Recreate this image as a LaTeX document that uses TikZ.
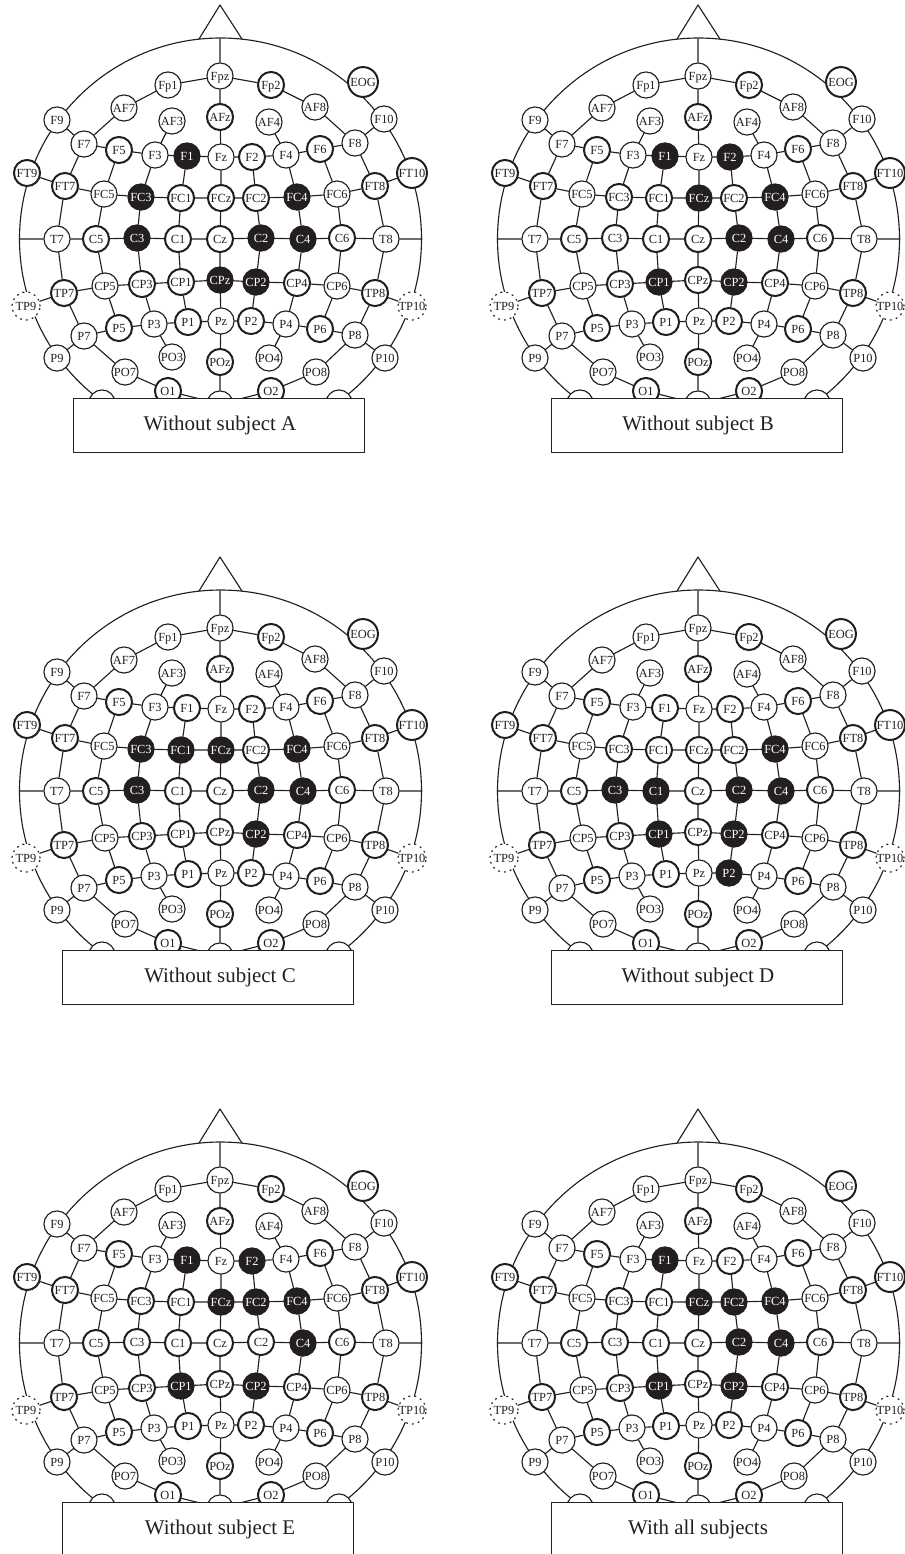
\documentclass[tikz,border=0pt]{standalone}
\usepackage{fontspec}
\setmainfont{Liberation Serif}
\definecolor{ink}{HTML}{231F20}
\tikzset{
	wire/.style={ink, line width=0.85pt},
	basenode/.style={circle, fill=white, text=ink, inner sep=0pt, minimum size=19.6pt, text height=6pt, text depth=0pt, font=\fontsize{9.3}{10}\selectfont},
	thinnode/.style={basenode, draw=ink, line width=0.85pt},
	thicknode/.style={basenode, draw=ink, line width=1.5pt},
	bignode/.style={thicknode, minimum size=22.4pt},
	dotnode/.style={basenode, draw=ink, dash pattern=on 0.9pt off 3.6pt, line width=0.9pt, minimum size=21pt},
	activenode/.style={basenode, draw=ink, fill=ink, text=white, line width=0.85pt},
	captionbox/.style={draw=ink, fill=white, line width=0.85pt, minimum width=218.4pt, minimum height=40.6pt},
	captiontext/.style={text=ink, inner sep=0pt, font=\fontsize{15.7}{18}\selectfont}
}
% Site name / x / y / look, in pixels of the first panel
\def\eegsites{Fpz/220/76/thinnode, Fp1/168/85/thinnode, Fp2/271/85/thicknode, EOG/363/82/bignode,
	AF7/124/108/thinnode, AF3/172/121/thinnode, AFz/220/117/thicknode, AF4/269/122/thinnode, AF8/315/107/thinnode,
	F9/57/120/thinnode, F10/384/119/thinnode,
	F7/84/144/thinnode, F5/119/150/thicknode, F3/155/155/thinnode, F1/187/156/thicknode, Fz/221/157/thinnode,
	F2/252/157/thicknode, F4/286/155/thinnode, F6/320/149/thicknode, F8/355/143/thinnode,
	FT9/27/173/thicknode, FT10/412/173/bignode,
	FT7/65/186/thicknode, FC5/104/194/thinnode, FC3/141/197/thicknode, FC1/181/198/thicknode, FCz/221/198/thicknode,
	FC2/256/198/thicknode, FC4/297/197/thicknode, FC6/337/194/thinnode, FT8/375/186/thicknode,
	T7/57/239/thinnode, C5/96/239/thicknode, C3/137/238/thicknode, C1/178/239/thicknode, Cz/220/239/thicknode,
	C2/261/238/thicknode, C4/303/239/thicknode, C6/342/238/thicknode, T8/386/239/thinnode,
	TP7/64/293/thicknode, CP5/105/286/thinnode, CP3/142/284/thicknode, CP1/181/282/thicknode, CPz/220/280/thicknode,
	CP2/256/282/thicknode, CP4/297/283/thicknode, CP6/337/286/thinnode, TP8/375/293/thicknode,
	TP9/26/306/dotnode, TP10/412/306/dotnode,
	P7/84/336/thinnode, P5/119/328/thicknode, P3/154/324/thinnode, P1/188/322/thicknode, Pz/221/321/thinnode,
	P2/251/321/thicknode, P4/286/324/thinnode, P6/320/329/thicknode, P8/355/335/thinnode,
	P9/57/358/thinnode, P10/385/358/thinnode,
	PO7/125/372/thinnode, PO3/172/357/thinnode, POz/220/362/thicknode, PO4/269/358/thinnode, PO8/316/372/thinnode,
	O1/168/391/thicknode, O2/271/391/thicknode}
% #1 panel, #2 shift, #3 left of box, #4 caption, #5 black sites
\newcommand{\headpanel}[5]{
	\foreach \s in {#5} {\expandafter\gdef\csname on#1\s\endcsname{}}
	\begin{scope}[shift={#2}, name prefix=#1-]
		% Outline of the head and the nose
		\coordinate (Htop) at (220,39);
		\coordinate (NoseL) at (199,39);
		\coordinate (NoseR) at (242,39);
		\coordinate (Apex) at (220,5);
		\coordinate (Tleft) at (19.5,239);
		\coordinate (Tright) at (422,239);
		\draw[wire] (220.5,239) circle (201);
		\draw[wire] (NoseL) -- (Apex) -- (NoseR);
		% The sites
		\foreach \s/\px/\py/\st in \eegsites {
			\ifcsname on#1\s\endcsname \def\kind{activenode}\else \let\kind\st \fi
			\node[\kind] (\s) at (\px,\py) {\makebox[0pt]{\s}};
		}
		% Three sites that the box hides
		\node[thinnode] (PO9) at (102,403) {};
		\node[thinnode] (Oz) at (220,404) {};
		\node[thinnode] (PO10) at (339,403) {};
		% Rows
		\draw[wire] (F7) -- (AF7) -- (Fp1) -- (Fpz) -- (Fp2) -- (AF8) -- (F8);
		\draw[wire] (F9) -- (F7) -- (F5) -- (F3) -- (F1) -- (Fz) -- (F2) -- (F4) -- (F6) -- (F8) -- (F10);
		\draw[wire] (FT9) -- (FT7) -- (FC5) -- (FC3) -- (FC1) -- (FCz) -- (FC2) -- (FC4) -- (FC6) -- (FT8) -- (FT10);
		\draw[wire] (Tleft) -- (T7) -- (C5) -- (C3) -- (C1) -- (Cz) -- (C2) -- (C4) -- (C6) -- (T8) -- (Tright);
		\draw[wire] (TP9) -- (TP7) -- (CP5) -- (CP3) -- (CP1) -- (CPz) -- (CP2) -- (CP4) -- (CP6) -- (TP8) -- (TP10);
		\draw[wire] (P9) -- (P7) -- (P5) -- (P3) -- (P1) -- (Pz) -- (P2) -- (P4) -- (P6) -- (P8) -- (P10);
		\draw[wire] (P7) -- (PO7) -- (O1) -- (Oz) -- (O2) -- (PO8) -- (P8);
		% Columns
		\draw[wire] (Htop) -- (Fpz) -- (AFz) -- (Fz) -- (FCz) -- (Cz) -- (CPz) -- (Pz) -- (POz) -- (Oz);
		\draw[wire] (AF3) -- (F3) -- (FC3) -- (C3) -- (CP3) -- (P3) -- (PO3);
		\draw[wire] (AF4) -- (F4) -- (FC4) -- (C4) -- (CP4) -- (P4) -- (PO4);
		\draw[wire] (F1) -- (FC1) -- (C1) -- (CP1) -- (P1);
		\draw[wire] (F2) -- (FC2) -- (C2) -- (CP2) -- (P2);
		\draw[wire] (F5) -- (FC5) -- (C5) -- (CP5) -- (P5);
		\draw[wire] (F6) -- (FC6) -- (C6) -- (CP6) -- (P6);
		\draw[wire] (F7) -- (FT7) -- (T7) -- (TP7) -- (P7);
		\draw[wire] (F8) -- (FT8) -- (T8) -- (TP8) -- (P8);
		% Box and caption
		\node[captionbox, anchor=north west] (Box) at (#3,398) {};
		\node[captiontext] (Caption) at (220,425) {#4};
	\end{scope}
}
\begin{document}
\begin{tikzpicture}[x=0.75pt, y=-0.75pt, line cap=round, line join=round]
	\useasboundingbox (0,0) rectangle (904,1554);
	\headpanel{a}{(0,0)}{73}{Without subject A}{F1,FC3,FC4,C3,C2,C4,CPz,CP2}
	\headpanel{b}{(478,0)}{73}{Without subject B}{F1,F2,FCz,FC4,C2,C4,CP1,CP2}
	\headpanel{c}{(0,552)}{62}{Without subject C}{FC3,FC1,FCz,FC4,C3,C2,C4,CP2}
	\headpanel{d}{(478,552)}{73}{Without subject D}{FC4,C3,C1,C2,C4,CP1,CP2,P2}
	\headpanel{e}{(0,1104)}{62}{Without subject E}{F1,F2,FCz,FC2,FC4,C4,CP1,CP2}
	\headpanel{f}{(478,1104)}{73}{With all subjects}{F1,FCz,FC2,FC4,C2,C4,CP1,CP2}
\end{tikzpicture}
\end{document}
